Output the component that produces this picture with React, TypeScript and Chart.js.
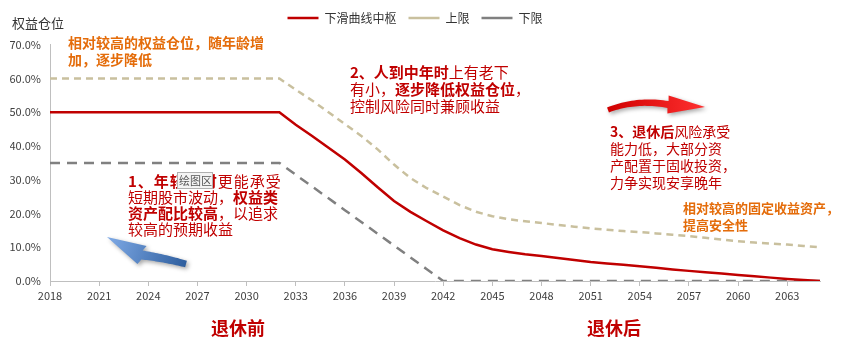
import React, { useEffect, useRef } from 'react';
import { Chart, registerables } from 'chart.js';
Chart.register(...registerables);

const years = [
  '2018','2019','2020','2021','2022','2023','2024','2025','2026','2027','2028','2029',
  '2030','2031','2032','2033','2034','2035','2036','2037','2038','2039','2040','2041',
  '2042','2043','2044','2045','2046','2047','2048','2049','2050','2051','2052','2053',
  '2054','2055','2056','2057','2058','2059','2060','2061','2062','2063','2064','2065',
];

const centralLine = [
  0.50,0.50,0.50,0.50,0.50,0.50,0.50,0.50,0.50,0.50,0.50,0.50,0.50,0.50,0.50,
  0.463,0.43,0.395,0.36,0.32,0.278,0.237,0.205,0.177,0.15,0.127,0.108,0.094,0.086,0.079,
  0.074,0.068,0.062,0.056,0.052,0.048,0.044,0.039,0.034,0.030,0.026,0.022,0.018,0.014,
  0.010,0.006,0.003,0.0,
];

const upperLimit = [
  0.60,0.60,0.60,0.60,0.60,0.60,0.60,0.60,0.60,0.60,0.60,0.60,0.60,0.60,0.60,
  0.567,0.535,0.50,0.465,0.43,0.39,0.345,0.305,0.275,0.25,0.225,0.205,0.192,0.183,0.177,
  0.172,0.166,0.161,0.156,0.152,0.148,0.145,0.141,0.137,0.133,0.128,0.123,0.118,0.114,
  0.111,0.108,0.104,0.10,
];

const lowerLimit = [
  0.35,0.35,0.35,0.35,0.35,0.35,0.35,0.35,0.35,0.35,0.35,0.35,0.35,0.35,0.35,
  0.315,0.28,0.245,0.21,0.175,0.14,0.105,0.07,0.035,0.0,0.0,0.0,0.0,0.0,0.0,
  0.0,0.0,0.0,0.0,0.0,0.0,0.0,0.0,0.0,0.0,0.0,0.0,0.0,0.0,0.0,0.0,0.0,0.0,
];

const seriesNames = ['下滑曲线中枢', '上限', '下限'];
const yTicks = [0, 0.1, 0.2, 0.3, 0.4, 0.5, 0.6, 0.7];

const FONT = '"Noto Sans CJK SC", "Noto Sans", sans-serif';
const RED = '#C00000';
const ORANGE = '#E46C0A';

type Run = [string, boolean];

function drawRich(ctx: CanvasRenderingContext2D, x: number, y: number, lines: Run[][], color: string, size: number, lh: number, spacing: number[] = []) {
  ctx.save();
  ctx.textBaseline = 'middle';
  ctx.textAlign = 'left';
  ctx.fillStyle = color;
  lines.forEach((line, i) => {
    let cx = x;
    (ctx as any).letterSpacing = `${spacing[i] || 0}px`;
    line.forEach(([t, b]) => {
      ctx.font = `${b ? 'bold ' : ''}${size}px ${FONT}`;
      ctx.fillText(t, cx, y + i * lh);
      cx += ctx.measureText(t).width;
    });
  });
  (ctx as any).letterSpacing = '0px';
  ctx.restore();
}

function drawArrow(
  ctx: CanvasRenderingContext2D,
  tail: number[], ctrl: number[], base: number[], tip: number[],
  bw: number, hw: number, c1: string, c2: string,
) {
  const N = 24;
  const left: number[][] = [];
  const right: number[][] = [];
  for (let i = 0; i <= N; i++) {
    const t = i / N;
    const px = (1 - t) * (1 - t) * tail[0] + 2 * (1 - t) * t * ctrl[0] + t * t * base[0];
    const py = (1 - t) * (1 - t) * tail[1] + 2 * (1 - t) * t * ctrl[1] + t * t * base[1];
    let dx = 2 * (1 - t) * (ctrl[0] - tail[0]) + 2 * t * (base[0] - ctrl[0]);
    let dy = 2 * (1 - t) * (ctrl[1] - tail[1]) + 2 * t * (base[1] - ctrl[1]);
    const l = Math.hypot(dx, dy) || 1;
    dx /= l; dy /= l;
    const w = bw * (0.75 + 0.25 * t);
    left.push([px - dy * w, py + dx * w]);
    right.push([px + dy * w, py - dx * w]);
  }
  let hx = tip[0] - base[0];
  let hy = tip[1] - base[1];
  const hl = Math.hypot(hx, hy) || 1;
  hx /= hl; hy /= hl;
  ctx.save();
  ctx.shadowColor = 'rgba(0,0,0,0.35)';
  ctx.shadowBlur = 4;
  ctx.shadowOffsetX = 2;
  ctx.shadowOffsetY = 2;
  const g = ctx.createLinearGradient(tail[0], tail[1], tip[0], tip[1]);
  g.addColorStop(0, c1);
  g.addColorStop(1, c2);
  ctx.fillStyle = g;
  ctx.beginPath();
  ctx.moveTo(left[0][0], left[0][1]);
  for (const p of left) ctx.lineTo(p[0], p[1]);
  ctx.lineTo(base[0] - hy * hw, base[1] + hx * hw);
  ctx.lineTo(tip[0], tip[1]);
  ctx.lineTo(base[0] + hy * hw, base[1] - hx * hw);
  for (let i = right.length - 1; i >= 0; i--) ctx.lineTo(right[i][0], right[i][1]);
  ctx.closePath();
  ctx.fill();
  ctx.restore();
}

const annotationPlugin = {
  id: 'annotations',
  afterDraw(chart: any) {
    const ctx: CanvasRenderingContext2D = chart.ctx;
    ctx.save();
    ctx.font = `13px ${FONT}`;
    ctx.fillStyle = '#333333';
    ctx.textBaseline = 'middle';
    ctx.fillText('权益仓位', 12, 23);
    ctx.restore();

    drawRich(ctx, 68, 43, [
      [['相对较高的权益仓位，随年龄增', true]],
      [['加，逐步降低', true]],
    ], ORANGE, 14, 17);

    drawRich(ctx, 350, 72, [
      [['2、人到中年时', true], ['上有老下', false]],
      [['有小，', false], ['逐步降低权益仓位', true], ['，', false]],
      [['控制风险同时兼顾收益', false]],
    ], RED, 15, 17);

    drawRich(ctx, 128, 181, [
      [['1、年轻人时', true], ['更能承受', false]],
      [['短期股市波动，', false], ['权益类', true]],
      [['资产配比较高', true], ['，以追求', false]],
      [['较高的预期收益', false]],
    ], RED, 15, 16, [1, 0, 0, 0]);

    ctx.save();
    ctx.fillStyle = '#f4f4f4';
    ctx.strokeStyle = '#b0b0b0';
    ctx.lineWidth = 1;
    ctx.fillRect(177.5, 172.5, 35, 16);
    ctx.strokeRect(177.5, 172.5, 35, 16);
    ctx.font = `11px ${FONT}`;
    ctx.fillStyle = '#555555';
    ctx.textBaseline = 'middle';
    ctx.fillText('绘图区', 179, 181);
    ctx.restore();

    drawRich(ctx, 610, 132, [
      [['3、退休后', true], ['风险承受', false]],
      [['能力低，大部分资', false]],
      [['产配置于固收投资，', false]],
      [['力争实现安享晚年', false]],
    ], RED, 14, 17);

    drawRich(ctx, 683, 208, [
      [['相对较高的固定收益资产，', true]],
      [['提高安全性', true]],
    ], ORANGE, 13, 17);

    ctx.save();
    ctx.font = `bold 18px ${FONT}`;
    ctx.fillStyle = RED;
    ctx.textAlign = 'center';
    ctx.textBaseline = 'middle';
    ctx.fillText('退休前', 238, 328);
    ctx.fillText('退休后', 614, 328);
    ctx.restore();

    drawArrow(ctx, [186, 264], [164, 258], [142, 255], [107, 237], 4.5, 10, '#2E5E9E', '#7FAAE6');
    drawArrow(ctx, [608, 110], [636, 99], [668, 104.5], [705, 107], 3.5, 9, '#D00000', '#FF3030');
  },
};

export default function App() {
  const ref = useRef<HTMLCanvasElement>(null);
  useEffect(() => {
    if (!ref.current) return;
    const chart = new Chart(ref.current, {
      type: 'line',
      data: {
        labels: years,
        datasets: [
          {
            label: seriesNames[0],
            data: centralLine,
            borderColor: RED,
            backgroundColor: RED,
            borderWidth: 2.5,
            pointRadius: 0,
            tension: 0,
          },
          {
            label: seriesNames[1],
            data: upperLimit,
            borderColor: '#C9C09E',
            backgroundColor: '#C9C09E',
            borderWidth: 2.5,
            borderDash: [7, 5],
            pointRadius: 0,
          },
          {
            label: seriesNames[2],
            data: lowerLimit,
            borderColor: '#808080',
            backgroundColor: '#808080',
            borderWidth: 2.5,
            borderDash: [10, 7],
            pointRadius: 0,
          },
        ],
      },
      options: {
        responsive: false,
        animation: false,
        layout: { padding: { top: 0, right: 32, left: 10, bottom: 0 } },
        plugins: {
          legend: {
            display: true,
            position: 'top',
            labels: {
              usePointStyle: true,
              pointStyle: 'line',
              pointStyleWidth: 31,
              padding: 12,
              color: '#333333',
              font: { family: FONT, size: 12 },
            },
          },
          subtitle: {
            display: true,
            text: ' ',
            position: 'top',
            weight: 500,
            font: { size: 9 },
            padding: { top: 0, bottom: 0 },
          },
          tooltip: { enabled: false },
        } as any,
        scales: {
          x: {
            type: 'category',
            offset: false,
            afterFit: (s: any) => { s.height = 65; },
            grid: {
              drawOnChartArea: false,
              drawTicks: true,
              tickLength: 5,
              color: (c: any) => (c.index % 3 === 0 ? '#BFBFBF' : 'rgba(0,0,0,0)'),
            },
            border: { color: '#BFBFBF', width: 1 },
            ticks: {
              autoSkip: false,
              maxRotation: 0,
              padding: 3,
              color: '#404040',
              font: { family: FONT, size: 11 },
              callback: (_v: any, i: number) => (i % 3 === 0 ? years[i] : ''),
            },
          },
          y: {
            min: 0,
            max: 0.7,
            afterFit: (s: any) => { s.width = 40; },
            afterBuildTicks: (s: any) => { s.ticks = yTicks.map((v) => ({ value: v })); },
            grid: { display: false, drawTicks: false },
            border: { color: '#BFBFBF', width: 1 },
            ticks: {
              padding: 9,
              color: '#404040',
              font: { family: FONT, size: 11 },
              callback: (v: any) => (Number(v) * 100).toFixed(1) + '%',
            },
          },
        },
      },
      plugins: [annotationPlugin],
    });
    return () => chart.destroy();
  }, []);
  return (
    <div style={{ position: 'absolute', left: 0, top: 0, width: 852, height: 346, background: '#fff' }}>
      <canvas ref={ref} width={852} height={346} />
    </div>
  );
}
